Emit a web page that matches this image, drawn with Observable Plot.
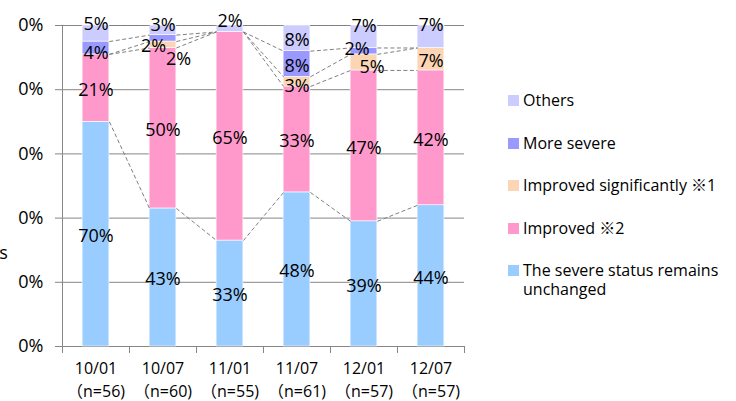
<!DOCTYPE html>
<html>
<head>
<meta charset="utf-8">
<script src="https://cdn.jsdelivr.net/npm/d3@7"></script>
<script src="https://cdn.jsdelivr.net/npm/@observablehq/plot@0.6"></script>
<style>
  body { margin: 0; background: #fff; font-family: "Open Sans", "Noto Sans CJK JP", sans-serif; }
  #wrap { position: relative; width: 736px; height: 401px; }
  #legend { position: absolute; left: 508px; top: 91px; font-size: 16px; line-height: 19px; color: #000; }
  .row { display: flex; align-items: flex-start; margin-bottom: 23.5px; }
  .sw { width: 11px; height: 11px; margin-top: 4px; margin-right: 4px; flex: none; }
  .lbl { max-width: 205px; }
</style>
</head>
<body>
<div id="wrap"><div id="chart"></div><div id="legend"></div></div>
<script>
// Survey periods and respondents per period
const periods = ["10/01", "10/07", "11/01", "11/07", "12/01", "12/07"];
const sampleSizes = [56, 60, 55, 61, 57, 57];

// Series, bottom of the stack first
const seriesNames = [
  "The severe status remains unchanged",
  "Improved ※2",
  "Improved significantly ※1",
  "More severe",
  "Others"
];
const severeUnchanged = [70, 43, 33, 48, 39, 44];
const improved = [21, 50, 65, 33, 47, 42];
const improvedSignificantly = [0, 2, 0, 3, 5, 7];
const moreSevere = [4, 2, 0, 8, 2, 0];
const others = [5, 3, 2, 8, 7, 7];

const yTicks = [0, 20, 40, 60, 80, 100];
const yTickLabels = ["0%", "0%", "0%", "0%", "0%", "0%"];

const seriesColors = ["#99CCFF", "#FF99CC", "#FCD5B4", "#9999FF", "#CCCCFF"];
const gridColor = "#868686";
const halfBar = 0.2;

const seriesValues = [severeUnchanged, improved, improvedSignificantly, moreSevere, others];

// Stacked segments
const segments = [];
periods.forEach((p, i) => {
  let cum = 0;
  seriesValues.forEach((vals, s) => {
    const v = vals[i];
    segments.push({i, period: p, series: seriesNames[s], s, v, y1: cum, y2: cum + v});
    cum += v;
  });
});
const seg = (i, s) => segments[i * seriesNames.length + s];

// Series lines joining the top of each segment to the next bar
const seriesLines = [];
for (let i = 0; i < periods.length - 1; i++) {
  for (let s = 0; s < seriesNames.length; s++) {
    seriesLines.push({i, a: seg(i, s).y2, b: seg(i + 1, s).y2});
  }
}

// Hand-placed data labels for thin segments: [dx, dy] in pixels
const labelNudges = new Map([
  ["10/01|Others", [0, -9]],
  ["10/01|More severe", [0, 5.5]],
  ["10/07|Others", [0, -5]],
  ["10/07|Improved significantly ※1", [-9.5, 1]],
  ["10/07|More severe", [15.5, 21]],
  ["11/01|Others", [0, -7]],
  ["11/07|Improved significantly ※1", [0, 5]],
  ["12/01|Others", [0, -11]],
  ["12/01|More severe", [-7, -2]],
  ["12/01|Improved significantly ※1", [8, 5]],
  ["12/07|Others", [0, -12]]
]);
const keyOf = d => `${d.period}|${d.series}`;
const labelled = segments.filter(d => d.v > 0);
const labelOpts = {
  x: "i",
  y: d => (d.y1 + d.y2) / 2,
  text: d => `${d.v}%`,
  fontSize: 18,
  fill: "#000"
};

const xBoundaries = d3.range(periods.length + 1).map(k => k - 0.5);

const chart = Plot.plot({
  width: 500,
  height: 401,
  marginLeft: 62,
  marginRight: 36,
  marginTop: 25,
  marginBottom: 55,
  x: {domain: [-0.5, periods.length - 0.5], axis: null},
  y: {domain: [0, 100], axis: null},
  color: {domain: seriesNames, range: seriesColors},
  style: {fontFamily: '"Open Sans", "Noto Sans CJK JP", sans-serif', background: "white", color: "#000", overflow: "visible"},
  marks: [
    Plot.ruleY(yTicks, {stroke: gridColor, strokeWidth: 1}),
    Plot.ruleX([-0.5], {y1: 0, y2: 100, stroke: gridColor, strokeWidth: 1}),
    Plot.axisY({
      ticks: yTicks,
      tickFormat: d => yTickLabels[yTicks.indexOf(d)],
      tickSize: 7,
      tickPadding: 12,
      fontSize: 18,
      stroke: gridColor,
      fill: "#000",
      label: null
    }),
    Plot.ruleX(xBoundaries, {y1: 0, y2: 0, insetBottom: -7, stroke: gridColor}),
    Plot.text(periods, {
      x: (d, i) => i,
      y: 0,
      text: (d, i) => `${d}\n（n=${sampleSizes[i]})`,
      lineAnchor: "top",
      lineHeight: 1.42,
      dy: 11.5,
      fontSize: 16,
      fill: "#000"
    }),
    Plot.text(["s"], {x: -0.5, y: 29, dx: -59, fontSize: 18, fill: "#000"}),
    Plot.rectY(segments.filter(d => d.v > 0), {
      x1: d => d.i - halfBar,
      x2: d => d.i + halfBar,
      y1: "y1",
      y2: "y2",
      fill: "series",
      stroke: "white",
      strokeWidth: 0.6
    }),
    Plot.link(seriesLines, {
      x1: d => d.i + halfBar,
      x2: d => d.i + 1 - halfBar,
      y1: "a",
      y2: "b",
      stroke: "#7f7f7f",
      strokeWidth: 1,
      strokeDasharray: "4,2.5"
    }),
    Plot.text(labelled.filter(d => !labelNudges.has(keyOf(d))), {...labelOpts, dy: 2}),
    ...Array.from(labelNudges, ([k, [dx, dy]]) =>
      Plot.text(labelled.filter(d => keyOf(d) === k), {...labelOpts, dx, dy})
    )
  ]
});
document.getElementById("chart").appendChild(chart);

// Legend, top row = top of the stack
const legend = d3.select("#legend");
seriesNames.map((name, s) => ({name, color: seriesColors[s]})).reverse().forEach(item => {
  const row = legend.append("div").attr("class", "row");
  row.append("div").attr("class", "sw").style("background", item.color);
  row.append("div").attr("class", "lbl").text(item.name);
});
</script>
</body>
</html>
